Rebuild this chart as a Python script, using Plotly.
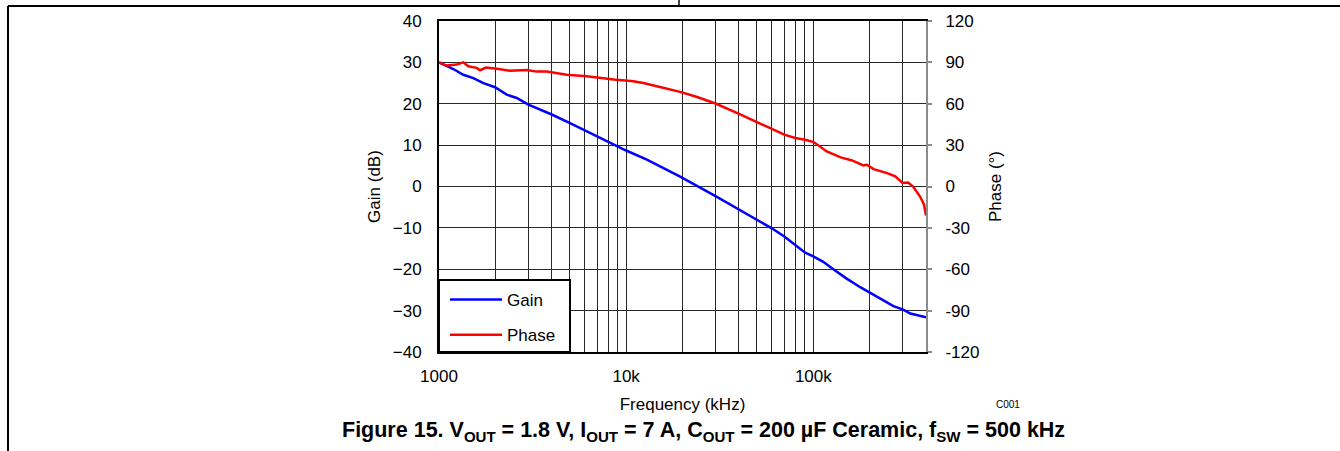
import plotly.graph_objects as go
import math

# ---------------- data ----------------
freq_gain = [1000, 1099, 1193, 1349, 1526, 1727, 1992, 2301, 2603, 3003, 3465, 4001,
             5012, 6010, 7011, 8041, 10000, 12900, 19430, 30200, 40100, 50300, 60000,
             70000, 80000, 90500, 100000, 113000, 128000, 150000, 179000, 203000,
             228000, 268000, 300000, 330000, 400000]
gain_db = [30.0, 29.1, 28.4, 27.0, 26.2, 25.0, 24.0, 22.2, 21.4, 19.8, 18.6, 17.4,
           15.3, 13.6, 12.1, 10.7, 8.7, 6.5, 2.4, -2.4, -5.6, -8.1, -10.1,
           -12.1, -14.1, -16.0, -16.9, -18.2, -20.0, -22.2, -24.4, -25.8,
           -27.3, -28.9, -29.7, -30.7, -31.6]

freq_phase = [1000, 1099, 1243, 1349, 1434, 1590, 1657, 1783, 2036, 2398, 2944, 3329,
              3765, 4818, 6158, 8568, 10940, 12350, 14580, 19430, 23940, 30250, 40110,
              50260, 60070, 70000, 80000, 90500, 100400, 108700, 118000, 140000,
              161000, 185000, 193000, 210000, 248000, 274000, 300000, 321000, 341000,
              372000, 390000, 400000]
phase_deg = [90.0, 87.7, 88.4, 90.0, 87.2, 86.0, 84.3, 86.2, 85.3, 84.0, 84.5, 83.3,
             83.3, 81.1, 79.9, 77.5, 76.3, 75.1, 72.7, 68.6, 64.9, 60.0, 52.6,
             46.5, 41.7, 37.6, 35.2, 33.9, 32.2, 29.0, 25.4, 21.1,
             18.9, 15.3, 15.8, 12.6, 9.7, 7.3, 2.5, 2.9, 0.0,
             -7.3, -13.0, -21.0]

x_tick_vals = [1000, 10000, 100000]
x_tick_text = ["1000", "10k", "100k"]
x_minor_vals = [2000, 3000, 4000, 5000, 6000, 7000, 8000, 9000,
                20000, 30000, 40000, 50000, 60000, 70000, 80000, 90000,
                200000, 300000]
gain_tick_vals = [-40, -30, -20, -10, 0, 10, 20, 30, 40]
phase_tick_vals = [-120, -90, -60, -30, 0, 30, 60, 90, 120]
phase_tick_text = ["-120", "-90", "-60", "-30", "0", "30", "60", "90", "120"]

x_range = [1000, 400000]
gain_range = [-40, 40]
phase_range = [-120, 120]

# ---------------- figure ----------------
W, H = 1340, 451
ML, MR, MT, MB = 439, 414, 21, 99
PW, PH = W - ML - MR, H - MT - MB
FONT = "Liberation Sans, Arial, Helvetica, sans-serif"


def px_x(px):
    return (px - ML) / PW


def px_y(py):
    return (H - MB - py) / PH


fig = go.Figure()
fig.add_trace(go.Scatter(x=freq_gain, y=gain_db, name="Gain", mode="lines",
                         line=dict(color="#0000FF", width=2.5), legendgroup="g"))
fig.add_trace(go.Scatter(x=freq_phase, y=phase_deg, name="Phase", mode="lines",
                         line=dict(color="#FF0000", width=2.5), yaxis="y2",
                         legendgroup="p"))

grid_col = "#2a2a2a"
fig.update_layout(
    width=W, height=H,
    margin=dict(l=ML, r=MR, t=MT, b=MB, pad=0),
    paper_bgcolor="white", plot_bgcolor="white",
    font=dict(family=FONT, size=17, color="black"),
    xaxis=dict(type="log", range=[math.log10(x_range[0]), math.log10(x_range[1])],
               tickvals=x_tick_vals, ticktext=x_tick_text, ticks="",
               showgrid=True, gridcolor=grid_col, gridwidth=1,
               minor=dict(tickvals=x_minor_vals, showgrid=True, gridcolor=grid_col,
                          gridwidth=1, ticks=""),
               showline=True, linecolor="black", linewidth=2, mirror=True,
               ticklabelstandoff=8,
               title=dict(text="Frequency (kHz)", standoff=13, font=dict(size=17)),
               zeroline=False),
    yaxis=dict(range=gain_range, tickvals=gain_tick_vals, ticks="",
               showgrid=True, gridcolor=grid_col, gridwidth=1,
               showline=True, linecolor="black", linewidth=2,
               ticklabelstandoff=12, zeroline=False,
               title=dict(text="Gain (dB)", standoff=8, font=dict(size=17))),
    yaxis2=dict(range=phase_range, tickvals=phase_tick_vals, ticktext=phase_tick_text,
                overlaying="y", side="right", showgrid=False, zeroline=False,
                showline=True, linecolor="#8c8c8c", linewidth=2,
                ticks="outside", ticklen=4, tickwidth=1.5, tickcolor="#8c8c8c",
                ticklabelstandoff=10,
                title=dict(text="Phase (°)", standoff=11, font=dict(size=17))),
    showlegend=True,
    legend=dict(x=px_x(445), y=px_y(282), xanchor="left", yanchor="top",
                bgcolor="rgba(0,0,0,0)", borderwidth=0, font=dict(size=17),
                itemwidth=52, tracegroupgap=10),
)

# legend frame
fig.add_shape(type="rect", xref="paper", yref="paper",
              x0=0, x1=px_x(570), y0=0, y1=px_y(280),
              line=dict(color="black", width=2), fillcolor="white", layer="above")

# page frame lines (datasheet page border)
frame = dict(color="black", width=2)
fig.add_shape(type="line", xref="paper", yref="paper",
              x0=px_x(8), x1=px_x(W + 5), y0=px_y(6), y1=px_y(6), line=frame)
fig.add_shape(type="line", xref="paper", yref="paper",
              x0=px_x(8), x1=px_x(8), y0=px_y(6), y1=px_y(H + 5), line=frame)
fig.add_shape(type="line", xref="paper", yref="paper",
              x0=px_x(679), x1=px_x(679), y0=px_y(-5), y1=px_y(6),
              line=dict(color="black", width=1.5))

fig.add_annotation(text="C001", xref="paper", yref="paper",
                   x=px_x(1008), y=px_y(404), showarrow=False,
                   font=dict(size=10, family=FONT), xanchor="center", yanchor="middle")
fig.add_annotation(
    text="<b>Figure 15. V<sub>OUT</sub> = 1.8 V, I<sub>OUT</sub> = 7 A, "
         "C<sub>OUT</sub> = 200 µF Ceramic, f<sub>SW</sub> = 500 kHz</b>",
    xref="paper", yref="paper", x=px_x(340), y=px_y(431), showarrow=False,
    font=dict(size=21.5, family=FONT), xanchor="left", yanchor="middle")

fig.write_html("out.html", config={"displayModeBar": False},
               post_script="document.body.style.margin='0';")
